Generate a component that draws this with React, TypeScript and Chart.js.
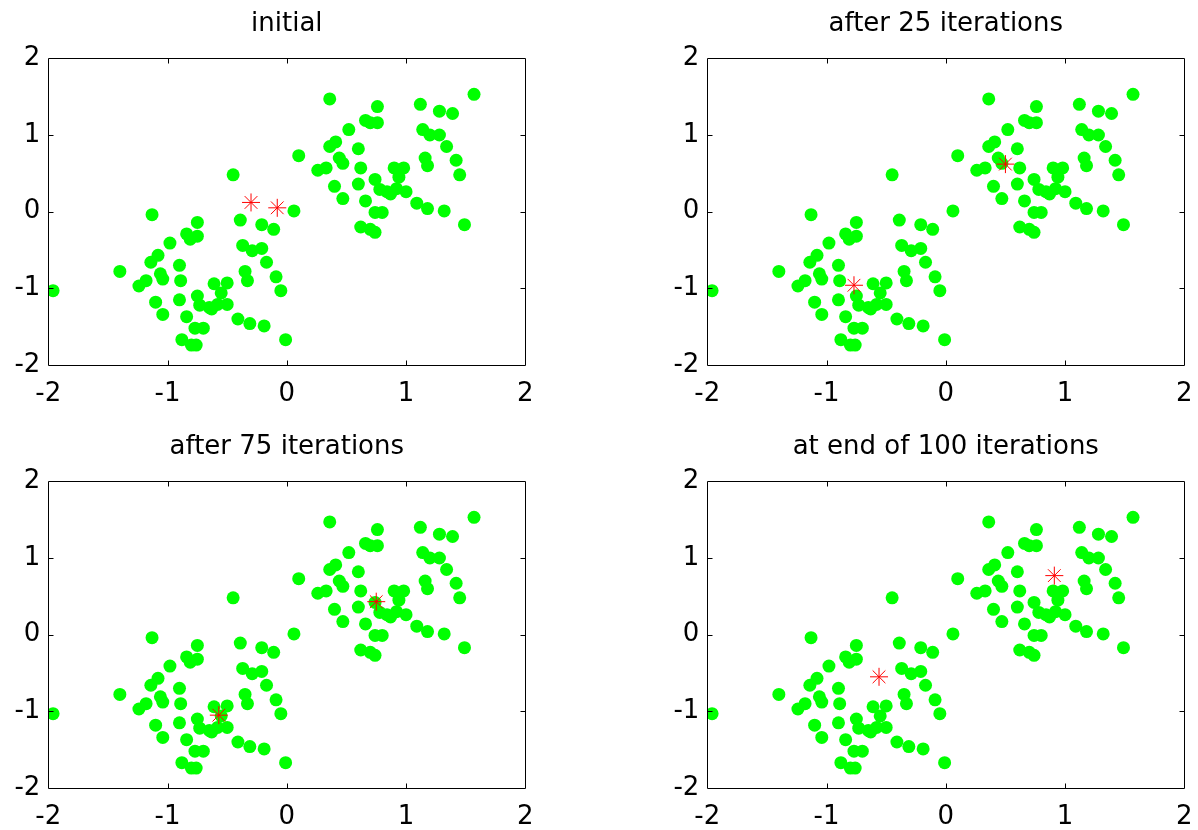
import React, { useEffect, useRef } from 'react';
import { Chart, registerables } from 'chart.js';

Chart.register(...registerables);

// Data points (same 100 samples in every panel)
const pointsX = [
  -1.96, -1.13, -0.75, -0.84, -0.81, -0.75, -0.98, -1.08, -1.14, -0.90,
  -1.40, -1.06, -1.04, -1.18, -1.24, -0.89, -1.10, -1.04, -0.90, -0.84,
  -0.75, -0.73, -0.65, -0.63, -0.58, -0.50, -0.61, -0.55, -0.50, -0.77,
  -0.70, -0.88, -0.80, -0.76, -0.41, -0.31, -0.19, -0.01, -0.39, -0.21,
  -0.11, -0.37, -0.29, -0.21, -0.17, -0.35, -0.33, -0.09, -0.05, -0.45,
  0.06, 0.10, 0.36, 0.76, 0.66, 0.70, 0.76, 0.52, 0.41, 0.36,
  0.60, 0.44, 0.47, 0.26, 0.33, 0.62, 0.90, 0.98, 0.94, 0.74,
  0.40, 0.60, 0.78, 0.84, 0.87, 0.92, 1.00, 0.47, 0.66, 0.74,
  0.80, 0.62, 0.70, 0.74, 1.09, 1.18, 1.32, 1.49, 1.12, 1.28,
  1.39, 1.57, 1.14, 1.20, 1.28, 1.34, 1.16, 1.18, 1.42, 1.45,
];
const pointsY = [
  -1.03, -0.04, -0.14, -0.29, -0.36, -0.32, -0.41, -0.57, -0.66, -0.70,
  -0.78, -0.81, -0.88, -0.90, -0.97, -0.90, -1.18, -1.34, -1.15, -1.37,
  -1.10, -1.22, -1.25, -1.27, -1.21, -1.21, -0.94, -1.06, -0.93, -1.52,
  -1.52, -1.67, -1.74, -1.74, -1.40, -1.46, -1.49, -1.67, -0.11, -0.17,
  -0.23, -0.44, -0.51, -0.48, -0.66, -0.78, -0.90, -0.85, -1.03, 0.48,
  0.01, 0.73, 1.47, 1.37, 1.19, 1.16, 1.16, 1.07, 0.91, 0.85,
  0.82, 0.70, 0.63, 0.54, 0.57, 0.57, 0.57, 0.57, 0.45, 0.42,
  0.33, 0.36, 0.29, 0.26, 0.23, 0.30, 0.26, 0.17, 0.14, -0.01,
  -0.01, -0.20, -0.23, -0.27, 0.11, 0.04, 0.01, -0.17, 1.40, 1.31,
  1.28, 1.53, 1.07, 1.00, 1.00, 0.85, 0.70, 0.60, 0.67, 0.48,
];

const panelTitles = ['initial', 'after 25 iterations', 'after 75 iterations', 'at end of 100 iterations'];
const centroidsX = [
  [-0.30, -0.08],
  [0.50, -0.77],
  [0.75, -0.57],
  [0.91, -0.56],
];
const centroidsY = [
  [0.12, 0.05],
  [0.62, -0.96],
  [0.43, -1.05],
  [0.77, -0.55],
];
const axisMin = -2;
const axisMax = 2;
const innerTicks = [-1, 0, 1];

const FONT = 'DejaVu Sans';

const boxPlugin = {
  id: 'boxTicks',
  afterDatasetsDraw(chart: any) {
    const { ctx, chartArea: a, scales } = chart;
    ctx.save();
    ctx.strokeStyle = '#000000';
    ctx.lineWidth = 1;
    const l = Math.round(a.left) + 0.5;
    const r = Math.round(a.right) + 0.5;
    const t = Math.round(a.top) + 0.5;
    const b = Math.round(a.bottom) + 0.5;
    ctx.beginPath();
    ctx.rect(l, t, r - l, b - t);
    const L = 5;
    for (const v of innerTicks) {
      const px = Math.round(scales.x.getPixelForValue(v)) + 0.5;
      ctx.moveTo(px, t);
      ctx.lineTo(px, t + L);
      ctx.moveTo(px, b);
      ctx.lineTo(px, b - L);
      const py = Math.round(scales.y.getPixelForValue(v)) + 0.5;
      ctx.moveTo(l, py);
      ctx.lineTo(l + L, py);
      ctx.moveTo(r, py);
      ctx.lineTo(r - L, py);
    }
    ctx.stroke();
    ctx.restore();
  },
};

const CANVAS_W = 539;
const CANVAS_H = 407;

function Panel({ index, left, top }: { index: number; left: number; top: number }) {
  const ref = useRef<HTMLCanvasElement | null>(null);
  useEffect(() => {
    if (!ref.current) return;
    const pts = pointsX.map((x, i) => ({ x, y: pointsY[i] }));
    const cents = centroidsX[index].map((x, i) => ({ x, y: centroidsY[index][i] }));
    const tickFont = { family: FONT, size: 26, weight: 'normal' as const };
    const chart = new Chart(ref.current, {
      type: 'scatter',
      data: {
        datasets: [
          {
            data: cents,
            pointStyle: 'star',
            radius: 9,
            borderColor: '#ff0000',
            backgroundColor: '#ff0000',
            borderWidth: 1,
            order: 0,
          },
          {
            data: pts,
            pointStyle: 'circle',
            radius: 6.5,
            backgroundColor: '#00ff00',
            borderColor: '#00ff00',
            borderWidth: 0,
            order: 1,
          },
        ],
      },
      options: {
        animation: false,
        responsive: false,
        events: [],
        layout: { padding: { left: 0, right: 13.7, top: 0, bottom: 0 } },
        plugins: {
          legend: { display: false },
          tooltip: { enabled: false },
          title: {
            display: true,
            fullSize: false,
            text: panelTitles[index],
            color: '#000000',
            font: { family: FONT, size: 26, weight: 'normal' },
            padding: { top: 9, bottom: 18.1 },
          },
        },
        scales: {
          x: {
            type: 'linear',
            min: axisMin,
            max: axisMax,
            ticks: { stepSize: 1, color: '#000000', font: tickFont, padding: 0, maxRotation: 0 },
            grid: { display: false, drawTicks: true, tickLength: 14 },
            border: { display: false },
            afterFit: (s: any) => {
              s.height = 42;
            },
          },
          y: {
            type: 'linear',
            min: axisMin,
            max: axisMax,
            ticks: { stepSize: 1, color: '#000000', font: tickFont, padding: 0 },
            grid: { display: false, drawTicks: true, tickLength: 8 },
            border: { display: false },
            afterFit: (s: any) => {
              s.width = 48.3;
            },
          },
        },
      },
      plugins: [boxPlugin],
    });
    return () => chart.destroy();
  }, [index]);
  return (
    <div style={{ position: 'absolute', left, top, width: CANVAS_W, height: CANVAS_H }}>
      <canvas ref={ref} width={CANVAS_W} height={CANVAS_H} style={{ width: CANVAS_W, height: CANVAS_H, display: 'block' }} />
    </div>
  );
}

export default function App() {
  return (
    <div
      style={{
        position: 'absolute',
        left: 0,
        top: 0,
        width: 1198,
        height: 830,
        overflow: 'hidden',
        background: '#ffffff',
      }}
    >
      <Panel index={0} left={0} top={0} />
      <Panel index={1} left={659} top={0} />
      <Panel index={2} left={0} top={423} />
      <Panel index={3} left={659} top={423} />
    </div>
  );
}
